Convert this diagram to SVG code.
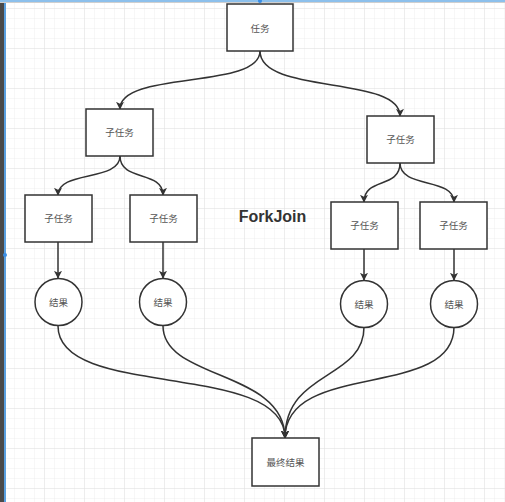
<svg xmlns="http://www.w3.org/2000/svg" width="505" height="502" viewBox="0 0 505 502">
<defs>
<pattern id="minor" x="5" y="9" width="10" height="10" patternUnits="userSpaceOnUse">
<path d="M10 0V10M0 10H10" fill="none" stroke="#eeeeee" stroke-width="1"/>
</pattern>
<pattern id="major" x="5" y="9" width="40" height="40" patternUnits="userSpaceOnUse">
<path d="M40 0V40M0 40H40" fill="none" stroke="#e2e2e2" stroke-width="1"/>
</pattern>
<marker id="arr" viewBox="0 0 10 10" refX="9" refY="5" markerWidth="8" markerHeight="8" markerUnits="userSpaceOnUse" orient="auto">
<path d="M0 0L10 5L0 10L2.5 5Z" fill="#333"/>
</marker>
</defs>
<style>
.box{fill:#fff;stroke:#333;stroke-width:1.5}
.lbl{font-family:"Liberation Sans","Noto Sans CJK SC",sans-serif;font-size:9.5px;fill:#555;text-anchor:middle;dominant-baseline:central}
.edge{fill:none;stroke:#333;stroke-width:1.5;marker-end:url(#arr)}
</style>
<rect width="505" height="502" fill="#fff"/>
<rect width="505" height="502" fill="url(#minor)"/>
<rect width="505" height="502" fill="url(#major)"/>
<rect x="0" y="0" width="4" height="502" fill="#4a4a4a"/>
<rect x="4" y="0" width="2" height="502" fill="#5aa0e0"/>
<rect x="0" y="0" width="505" height="2" fill="#8cc0ec"/>
<line x1="0" y1="2.5" x2="505" y2="2.5" stroke="#cfcfcf" stroke-width="1"/>
<circle cx="260" cy="1" r="2" fill="#3a8ee6"/>
<circle cx="5" cy="255" r="2" fill="#3a8ee6"/>

<g id="connectors">
<path class="edge" d="M260 51C260 90 120 70 120 109"/>
<path class="edge" d="M260 51C260 95 400 75 400 116"/>
<path class="edge" d="M120 156C120 182 58 170 58 195"/>
<path class="edge" d="M120 156C120 182 163 170 163 195"/>
<path class="edge" d="M400 163C400 189 364 177 364 202"/>
<path class="edge" d="M400 163C400 189 454 177 454 202"/>
<path class="edge" d="M58 242V278"/>
<path class="edge" d="M163 242V278"/>
<path class="edge" d="M364 249V280"/>
<path class="edge" d="M454 249V280"/>
<path class="edge" d="M58 326C58 400 285 360 285 438"/>
<path class="edge" d="M163 326C163 380 285 370 285 438"/>
<path class="edge" d="M364 327C364 380 285 370 285 438"/>
<path class="edge" d="M454 327C454 400 285 360 285 438"/>
</g>

<g id="task"><rect class="box" x="227" y="4" width="66" height="47"/><text class="lbl" x="260" y="28">任务</text></g>
<g id="sub-l"><rect class="box" x="86" y="109" width="67" height="47"/><text class="lbl" x="119.5" y="132.5">子任务</text></g>
<g id="sub-r"><rect class="box" x="367" y="116" width="67" height="47"/><text class="lbl" x="400.5" y="139.5">子任务</text></g>
<g id="sub-ll"><rect class="box" x="25" y="195" width="67" height="47"/><text class="lbl" x="58.5" y="218.5">子任务</text></g>
<g id="sub-lr"><rect class="box" x="130" y="195" width="67" height="47"/><text class="lbl" x="163.5" y="218.5">子任务</text></g>
<g id="sub-rl"><rect class="box" x="331" y="202" width="67" height="47"/><text class="lbl" x="364.5" y="225.5">子任务</text></g>
<g id="sub-rr"><rect class="box" x="420" y="202" width="67" height="47"/><text class="lbl" x="453.5" y="225.5">子任务</text></g>
<g id="res-ll"><circle class="box" cx="58.5" cy="302" r="23.5"/><text class="lbl" x="58.5" y="302">结果</text></g>
<g id="res-lr"><circle class="box" cx="163" cy="302" r="23.5"/><text class="lbl" x="163" y="302">结果</text></g>
<g id="res-rl"><circle class="box" cx="364" cy="304" r="23.5"/><text class="lbl" x="364" y="304">结果</text></g>
<g id="res-rr"><circle class="box" cx="454" cy="304" r="23.5"/><text class="lbl" x="454" y="304">结果</text></g>
<g id="final"><rect class="box" x="252" y="438" width="67" height="48"/><text class="lbl" x="285.5" y="462">最终结果</text></g>
<g id="title"><text x="272.5" y="222" font-family="Liberation Sans, sans-serif" font-size="16" font-weight="bold" fill="#333" text-anchor="middle">ForkJoin</text></g>
</svg>
